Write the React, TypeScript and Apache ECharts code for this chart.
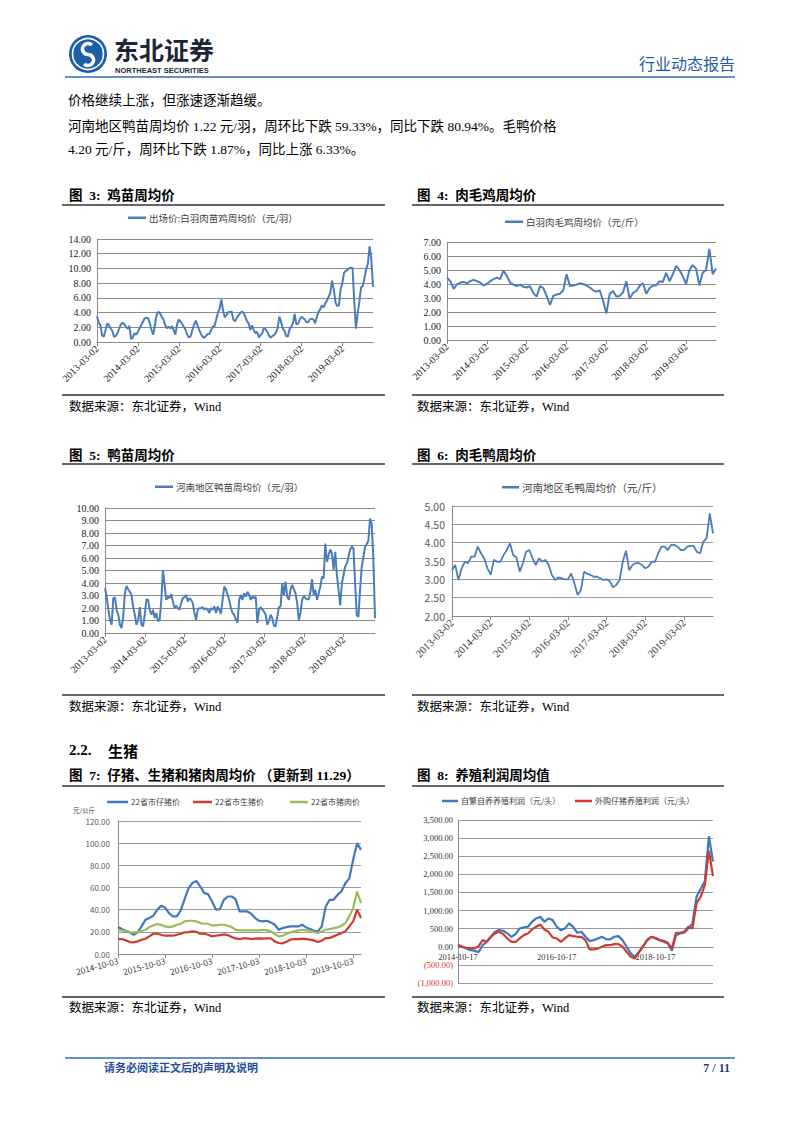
import React, { useEffect, useRef } from 'react';
import * as echarts from 'echarts';

// ---------- DATA ----------
const fig3Name = '出场价:白羽肉苗鸡周均价（元/羽）';
const fig3Ticks = ['2013-03-02', '2014-03-02', '2015-03-02', '2016-03-02', '2017-03-02', '2018-03-02', '2019-03-02'];
const fig3Values = [
  3.5, 2.6, 2.3, 0.9, 0.7, 1.6, 2.5, 2.3, 1.8, 1.5, 0.7, 0.8, 1.2, 1.8, 2.4, 2.6, 2.4, 2.1, 1.8, 2.2, 0.4, 0.6, 1.2, 1.0,
  1.4, 1.86, 2.31, 2.76, 3.22, 3.31, 3.22, 2.54, 1.63, 1.0, 2.31, 3.67, 4.12, 3.9, 3.44, 3.08, 2.31, 1.86, 2.08, 1.86, 2.17, 1.63, 1.0, 2.4,
  3.08, 2.76, 2.45, 2.08, 1.63, 0.95, 0.62, 0.82, 1.63, 2.4, 2.9, 2.22, 1.63, 1.09, 0.72, 0.55, 0.82, 1.09, 1.09, 1.63, 2.08, 2.17, 3.08, 3.99,
  4.58, 5.8, 4.26, 3.35, 3.67, 4.08, 4.03, 4.17, 3.08, 2.81, 3.22, 3.62, 3.9, 4.12, 3.99, 3.44, 2.85, 2.54, 1.63, 2.27, 1.63, 1.18, 1.4, 0.63,
  0.95, 1.18, 1.95, 1.72, 1.36, 0.82, 0.63, 0.82, 0.95, 1.27, 1.86, 3.44, 2.76, 1.86, 1.54, 0.82, 0.72, 1.72, 2.08, 2.54, 3.8, 2.45, 2.45, 3.08,
  3.44, 3.22, 3.08, 2.63, 2.72, 3.08, 3.17, 3.08, 2.54, 3.35, 4.08, 4.44, 4.98, 4.71, 5.26, 5.62, 6.16, 6.7, 8.34, 7.16, 5.35, 4.89, 4.98, 7.16,
  7.97, 9.42, 9.65, 9.79, 10.01, 10.1, 10.05, 5.5, 1.8, 3.9, 5.48, 7.43, 7.61, 8.65, 9.9, 10.7, 13.0, 11.3, 7.5,
];

const fig4Name = '白羽肉毛鸡周均价（元/斤）';
const fig4Ticks = ['2013-03-02', '2014-03-02', '2015-03-02', '2016-03-02', '2017-03-02', '2018-03-02', '2019-03-02'];
const fig4Values = [
  4.45, 4.2, 3.65, 3.98, 4.1, 4.15, 4.05, 4.2, 4.3, 4.2, 4.1, 3.9,
  4.0, 4.2, 4.35, 4.45, 4.35, 4.95, 4.6, 4.1, 3.95, 3.85, 3.95, 3.8,
  3.75, 3.85, 3.35, 3.1, 3.85, 3.7, 3.15, 2.5, 3.15, 3.25, 3.3, 3.55,
  4.7, 3.85, 3.9, 3.95, 4.05, 4.0, 3.9, 3.75, 3.55, 3.45, 3.55, 2.8,
  1.9, 3.3, 3.5, 3.1, 3.15, 3.4, 4.2, 2.95, 3.35, 3.5, 3.85, 4.05,
  3.3, 3.7, 3.9, 3.9, 4.2, 4.15, 4.8, 4.2, 4.7, 5.3, 5.0, 4.55,
  4.0, 5.0, 5.35, 5.1, 3.9, 4.8, 5.0, 6.5, 4.7, 5.1,
];

const fig5Name = '河南地区鸭苗周均价（元/羽）';
const fig5Ticks = ['2013-03-02', '2014-03-02', '2015-03-02', '2016-03-02', '2017-03-02', '2018-03-02', '2019-03-02'];
const fig5Values = [
  3.58, 2.9, 1.86, 1.06, 0.66, 2.79, 2.84, 1.86, 1.46, 0.66, 0.4, 1.33, 3.18, 3.77, 3.5, 3.3, 3.05, 2.1, 1.46, 0.66, 1.06, 2.07, 0.66, 0.53,
  1.46, 2.7, 2.65, 1.86, 1.46, 1.86, 1.19, 1.6, 0.93, 1.06, 2.65, 5.04, 3.85, 2.65, 2.9, 2.79, 3.1, 2.52, 1.99, 2.18, 1.99, 1.86, 2.39, 2.79,
  2.86, 3.05, 2.52, 2.79, 2.65, 2.39, 1.6, 1.06, 1.86, 1.99, 1.99, 2.07, 1.86, 1.99, 1.86, 1.6, 1.99, 1.86, 2.12, 1.6, 2.12, 1.86, 1.54, 2.65,
  3.71, 3.5, 3.05, 2.65, 1.99, 1.6, 1.46, 1.06, 0.85, 2.65, 3.05, 2.65, 3.18, 2.9, 3.3, 3.05, 2.65, 2.9, 2.79, 2.9, 0.8, 1.86, 2.07, 1.86,
  1.72, 1.46, 0.66, 1.0, 1.46, 1.19, 0.58, 0.53, 1.33, 2.07, 2.12, 3.98, 3.05, 4.11, 2.92, 2.65, 3.45, 3.85, 3.5, 3.18, 2.39, 1.0, 1.6, 2.65,
  2.97, 2.79, 2.7, 2.7, 3.3, 4.3, 3.05, 3.45, 2.65, 3.18, 3.71, 4.51, 4.38, 7.16, 5.7, 6.23, 6.68, 6.37, 5.04, 6.5, 4.64, 3.45, 2.2, 3.98,
  4.64, 5.3, 5.57, 6.1, 6.68, 6.9, 6.76, 4.0, 1.4, 1.3, 3.5, 5.3, 6.1, 6.9, 7.1, 7.4, 9.15, 8.75, 5.97, 1.19,
];

const fig6Name = '河南地区毛鸭周均价（元/斤）';
const fig6Ticks = ['2013-03-02', '2014-03-02', '2015-03-02', '2016-03-02', '2017-03-02', '2018-03-02', '2019-03-02'];
const fig6Values = [
  3.25, 3.39, 2.98, 3.3, 3.48, 3.44, 3.62, 3.62, 3.89, 3.71, 3.57, 3.3,
  3.12, 3.53, 3.48, 3.48, 3.66, 3.8, 3.98, 3.66, 3.6, 3.21, 3.44, 3.75,
  3.8, 3.57, 3.39, 3.57, 3.48, 3.53, 3.39, 3.12, 2.98, 3.05, 3.03, 3.0,
  3.0, 3.16, 2.89, 2.57, 2.71, 3.21, 3.15, 3.12, 3.07, 3.07, 3.03, 2.98,
  3.0, 2.94, 2.78, 2.85, 2.98, 3.48, 3.78, 3.25, 3.39, 3.44, 3.44, 3.39,
  3.3, 3.35, 3.48, 3.48, 3.71, 3.89, 3.89, 3.8, 3.94, 3.94, 3.89, 3.8,
  3.8, 3.89, 3.91, 3.91, 3.75, 3.71, 4.03, 4.12, 4.8, 4.25,
];

const fig7Names = ['22省市仔猪价', '22省市生猪价', '22省市猪肉价'];
const fig7Ticks = ['2014-10-03', '2015-10-03', '2016-10-03', '2017-10-03', '2018-10-03', '2019-10-03'];
const fig7Piglet = [
  24.3, 22.5, 21, 19.5, 17.4, 19.5, 24.9, 30.9, 32.4, 34.5,
  39.9, 43.5, 42, 36.9, 33.9, 33.9, 39.3, 49.5, 59.4, 63.9,
  66, 60.9, 54.9, 54, 47.4, 39.9, 40.5, 48.9, 51.9, 51.9,
  49.5, 38.4, 38.4, 38.4, 36.3, 32.4, 30, 29.4, 30, 28.5,
  26.4, 21.9, 23.4, 24.3, 24.9, 24.9, 24.9, 26.4, 24, 22.5,
  21, 20.4, 24.9, 42.9, 48.9, 48.9, 53.4, 56.4, 63.9, 68,
  85, 100, 94,
];
const fig7Hog = [
  13.5, 13.5, 12.3, 10.8, 10.5, 11.4, 12.9, 13.8, 15.9, 18.3,
  18.3, 17.4, 16.5, 16.5, 16.5, 17.4, 18.3, 19.5, 19.8, 20.4,
  20.1, 18.3, 18.3, 17.4, 15.9, 16.5, 17.1, 17.7, 17.1, 15.3,
  14.1, 13.5, 14.1, 14.1, 13.5, 13.8, 14.1, 13.8, 14.1, 14.1,
  11.4, 9.9, 9.6, 11.1, 12.9, 13.5, 13.5, 13.8, 13.5, 12.9,
  12.3, 10.8, 12, 14.4, 14.4, 15.9, 17.4, 18.9, 20.4, 24.9,
  29.4, 39.9, 32.4,
];
const fig7Pork = [
  21.9, 21.3, 20.7, 19.8, 19.5, 19.8, 20.7, 21.9, 24.3, 25.8,
  27, 26.4, 24.9, 24.3, 24.9, 26.4, 27.3, 29.4, 30, 30,
  29.4, 27.9, 27.3, 27.3, 25.8, 25.8, 26.4, 26.4, 25.5, 24.3,
  21.9, 21.3, 21.3, 21.3, 21.3, 21.3, 21.3, 21.9, 21.3, 20.4,
  18, 15.9, 16.5, 18.3, 19.5, 20.4, 21.3, 21.9, 21.3, 21,
  19.8, 18.9, 20.4, 21.9, 22.5, 23.4, 24, 25.5, 27.9, 33.9,
  41.4, 56.4, 45.9,
];

const fig8Names = ['自繁自养养殖利润（元/头）', '外购仔猪养殖利润（元/头）'];
const fig8Ticks = ['2014-10-17', '2016-10-17', '2018-10-17'];
const fig8SelfBred = [
  46, 0, -46, -92, -110, -150, 46, 138, 276, 414,
  460, 442, 368, 276, 350, 506, 534, 552, 690, 783,
  829, 690, 783, 737, 552, 460, 506, 645, 552, 387,
  414, 276, 157, 184, 230, 276, 212, 203, 276, 295,
  184, 0, -184, -276, -138, 18, 184, 276, 230, 184,
  138, 92, -110, 322, 368, 387, 506, 645, 1380, 1600,
  1800, 3050, 2350,
];
const fig8Bought = [
  46, 0, -28, -46, -46, 18, 184, 138, 276, 368,
  414, 350, 230, 138, 138, 230, 322, 368, 479, 552,
  617, 479, 414, 258, 230, 138, 230, 322, 295, 276,
  276, 184, -74, -74, -46, 0, 46, 46, 74, 74,
  0, -138, -276, -322, -157, 0, 184, 276, 249, 184,
  166, 110, -46, 387, 387, 414, 552, 506, 1197, 1380,
  1700, 2650, 1950,
];

// ---------- STYLE ----------
const SERIF = '"Liberation Serif", "Noto Sans CJK SC", serif';
const SANS = '"Noto Sans CJK SC", "Liberation Sans", sans-serif';
const BLUE = '#4a7ebb';
const RED = '#cf3a32';
const GREEN = '#9bbb59';

// chart-8 plot geometry (value range -1000..3500)
const G8 = { left: 458, top: 820, width: 255, height: 163 };
const fig8Min = -1000;
const fig8Max = 3500;
const fig8ZeroOffset = -(G8.height * (0 - fig8Min)) / (fig8Max - fig8Min);

function makeCats(n: number, per: number, ticks: string[]) {
  return Array.from({ length: n }, (_, i) =>
    i % per === 0 && ticks[i / per] ? ticks[i / per] : `p${i}`
  );
}

function xAxisCfg(gridIndex: number, n: number, per: number, ticks: string[], label: any, extra: any = {}) {
  const show = (idx: number) => idx % per === 0 && idx / per < ticks.length;
  return {
    type: 'category',
    gridIndex,
    data: makeCats(n, per, ticks),
    boundaryGap: false,
    axisLine: { show: true, lineStyle: { color: '#8a8a8a', width: 1 } },
    axisTick: { show: true, interval: show, length: 4, lineStyle: { color: '#8a8a8a' } },
    axisLabel: {
      interval: show,
      formatter: (v: string) => (v.charAt(0) === 'p' ? '' : v),
      ...label,
    },
    splitLine: { show: false },
    ...extra,
  };
}

function yAxisCfg(gridIndex: number, min: number, max: number, interval: number, label: any, gridColor = '#8a8a8a') {
  return {
    type: 'value',
    gridIndex,
    min,
    max,
    interval,
    axisLine: { show: true, lineStyle: { color: '#8a8a8a', width: 1 } },
    axisTick: { show: false },
    axisLabel: { formatter: (v: number) => v.toFixed(2), ...label },
    splitLine: { show: true, lineStyle: { color: gridColor, width: 1 } },
  };
}

function lineSeries(name: string, idx: number, data: number[], color: string, width = 2) {
  return {
    name,
    type: 'line',
    xAxisIndex: idx,
    yAxisIndex: idx,
    data,
    symbol: 'none',
    showSymbol: false,
    lineStyle: { color, width },
    itemStyle: { color },
    silent: true,
  };
}

function legendCfg(name: string, left: number, top: number, fontSize: number, color = '#404040', itemWidth = 18) {
  return {
    data: [name],
    left,
    top,
    padding: 0,
    itemGap: 0,
    itemWidth,
    itemHeight: 2.5,
    icon: 'rect',
    selectedMode: false,
    textStyle: { fontSize, color, fontFamily: SANS, padding: [0, 0, 0, -2] },
  };
}

const T = (x: number, y: number, text: string, font: string, fill = '#000', align = 'left') => ({
  type: 'text',
  x,
  y,
  silent: true,
  style: { text, font, fill, align, textAlign: align, verticalAlign: 'middle', textVerticalAlign: 'middle' },
});
const L = (x1: number, y1: number, x2: number, y2: number, stroke: string, lineWidth: number) => ({
  type: 'line',
  silent: true,
  shape: { x1, y1, x2, y2 },
  style: { stroke, lineWidth },
});

const fmtMoney = (v: number) => {
  const s = Math.abs(v).toLocaleString('en-US', { minimumFractionDigits: 2, maximumFractionDigits: 2 });
  return v < 0 ? `(${s})` : s;
};

export default function App() {
  const ref = useRef<HTMLDivElement>(null);

  useEffect(() => {
    if (!ref.current) return;
    const chart = echarts.init(ref.current, null, { renderer: 'svg', width: 802, height: 1133 });

    const serifLabel = { fontFamily: SERIF, fontSize: 10, color: '#1a1a1a' };
    const rot45 = { ...serifLabel, rotate: 45, margin: 5 };

    const titleFont = `bold 13.5px ${SERIF}`;
    const sourceFont = `12.5px ${SERIF}`;
    const bodyFont = `13.5px ${SERIF}`;

    const graphic: any[] = [
      // header logo
      { type: 'circle', silent: true, shape: { cx: 88, cy: 54, r: 19 }, style: { fill: '#1d5fa9' } },
      { type: 'circle', silent: true, shape: { cx: 88, cy: 54, r: 15.5 }, style: { fill: 'none', stroke: '#fff', lineWidth: 1.6 } },
      { type: 'arc', silent: true, shape: { cx: 88, cy: 49, r: 5.5, startAngle: Math.PI / 2, endAngle: Math.PI * 1.75, clockwise: true }, style: { stroke: '#fff', lineWidth: 3.5, fill: 'none' } },
      { type: 'arc', silent: true, shape: { cx: 88, cy: 60, r: 5.5, startAngle: -Math.PI / 2, endAngle: Math.PI * 0.75, clockwise: true }, style: { stroke: '#fff', lineWidth: 3.5, fill: 'none' } },
      T(114, 49, '东北证券', `bold 25px ${SANS}`, '#1b2636'),
      T(115, 70, 'NORTHEAST SECURITIES', 'bold 7.5px "Liberation Sans", sans-serif', '#1b2636'),
      T(735, 63, '行业动态报告', `16px ${SANS}`, '#1f5da8', 'right'),
      L(65, 77, 735, 77, '#2f6db5', 1.6),
      // body
      T(68, 100, '价格继续上涨，但涨速逐渐趋缓。', bodyFont),
      T(68, 126, '河南地区鸭苗周均价 1.22 元/羽，周环比下跌 59.33%，同比下跌 80.94%。毛鸭价格', bodyFont),
      T(68, 149, '4.20 元/斤，周环比下跌 1.87%，同比上涨 6.33%。', bodyFont),
      // fig 3 / 4
      T(69, 195, '图  3:  鸡苗周均价', titleFont),
      L(62, 205, 385, 205, '#333', 1.5),
      T(417, 195, '图  4:  肉毛鸡周均价', titleFont),
      L(412, 205, 724, 205, '#333', 1.5),
      L(62, 395, 385, 395, '#333', 1.5),
      L(412, 395, 724, 395, '#333', 1.5),
      T(69, 407, '数据来源：东北证券，Wind', sourceFont),
      T(417, 407, '数据来源：东北证券，Wind', sourceFont),
      // fig 5 / 6
      T(69, 455, '图  5:  鸭苗周均价', titleFont),
      L(62, 464, 385, 464, '#333', 1.5),
      T(417, 455, '图  6:  肉毛鸭周均价', titleFont),
      L(412, 464, 724, 464, '#333', 1.5),
      L(62, 695, 385, 695, '#333', 1.5),
      L(412, 695, 724, 695, '#333', 1.5),
      T(69, 707, '数据来源：东北证券，Wind', sourceFont),
      T(417, 707, '数据来源：东北证券，Wind', sourceFont),
      // section 2.2
      T(69, 750, '2.2.', `bold 15px ${SERIF}`),
      T(108, 750, '生猪', `bold 15px ${SANS}`),
      // fig 7 / 8
      T(69, 775, '图  7:  仔猪、生猪和猪肉周均价 （更新到 11.29）', titleFont),
      L(62, 786, 385, 786, '#333', 1.5),
      T(417, 775, '图  8:  养殖利润周均值', titleFont),
      L(412, 786, 724, 786, '#333', 1.5),
      T(73, 810, '元/公斤', `6.5px ${SANS}`, '#404040'),
      L(62, 997, 385, 997, '#333', 1.5),
      L(412, 997, 724, 997, '#333', 1.5),
      T(69, 1008, '数据来源：东北证券，Wind', sourceFont),
      T(417, 1008, '数据来源：东北证券，Wind', sourceFont),
      // footer
      L(65, 1058, 735, 1058, '#2f6db5', 1.6),
      T(104, 1068, '请务必阅读正文后的声明及说明', `bold 11px ${SERIF}`, '#1f4e9a'),
      T(730, 1068, '7 / 11', `bold 12px ${SERIF}`, '#1f3f7a', 'right'),
    ];

    const option: any = {
      animation: false,
      backgroundColor: '#ffffff',
      grid: [
        { left: 97, top: 239, width: 276, height: 103 },
        { left: 447, top: 242, width: 269, height: 98 },
        { left: 105, top: 508, width: 270, height: 125 },
        { left: 452, top: 506, width: 261, height: 110 },
        { left: 118, top: 821, width: 243, height: 133 },
        { ...G8 },
      ],
      xAxis: [
        xAxisCfg(0, fig3Values.length, 24, fig3Ticks, rot45),
        xAxisCfg(1, fig4Values.length, 12, fig4Ticks, rot45),
        xAxisCfg(2, fig5Values.length, 24, fig5Ticks, rot45),
        xAxisCfg(3, fig6Values.length, 12, fig6Ticks, { ...rot45, fontSize: 10.5, color: '#333' }),
        xAxisCfg(4, fig7Piglet.length, 12, fig7Ticks, { fontFamily: SANS, fontSize: 8.5, color: '#404040', rotate: 15, margin: 6 }),
        xAxisCfg(5, fig8SelfBred.length, 24, fig8Ticks, { fontFamily: SERIF, fontSize: 8.5, color: '#333', rotate: 0, margin: 6 }, {
          position: 'bottom',
          offset: fig8ZeroOffset,
          axisTick: { show: false },
          axisLine: { show: true, onZero: false, lineStyle: { color: '#8a8a8a' } },
        }),
      ],
      yAxis: [
        yAxisCfg(0, 0, 14, 2, { ...serifLabel, margin: 6 }),
        yAxisCfg(1, 0, 7, 1, { ...serifLabel, margin: 6 }),
        yAxisCfg(2, 0, 10, 1, { ...serifLabel, margin: 6 }),
        yAxisCfg(3, 2, 5, 0.5, { fontFamily: SANS, fontSize: 10.5, color: '#595959', margin: 7 }, '#9a9a9a'),
        yAxisCfg(4, 0, 120, 20, { fontFamily: SANS, fontSize: 8, color: '#595959', margin: 8 }, '#9a9a9a'),
        {
          ...yAxisCfg(5, fig8Min, fig8Max, 500, { fontFamily: SERIF, fontSize: 8.5, margin: 5 }, '#9a9a9a'),
          axisLabel: {
            fontFamily: SERIF,
            fontSize: 8.5,
            margin: 5,
            formatter: (v: number) => fmtMoney(v),
            color: (v: any) => (Number(v) < 0 ? '#e0302a' : '#333'),
          },
        },
      ],
      legend: [
        legendCfg(fig3Name, 128, 213, 9.5),
        legendCfg(fig4Name, 505, 217, 9.5),
        legendCfg(fig5Name, 155, 482, 9.5),
        legendCfg(fig6Name, 502, 482, 10.5, '#404040', 17),
        legendCfg(fig7Names[0], 107, 798, 8, '#404040', 21),
        legendCfg(fig7Names[1], 193, 798, 8, '#404040', 19),
        legendCfg(fig7Names[2], 290, 798, 8, '#404040', 18),
        legendCfg(fig8Names[0], 442, 797, 8, '#404040', 16),
        legendCfg(fig8Names[1], 575, 797, 8, '#404040', 17),
      ],
      series: [
        lineSeries(fig3Name, 0, fig3Values, BLUE, 2),
        lineSeries(fig4Name, 1, fig4Values, BLUE, 2),
        lineSeries(fig5Name, 2, fig5Values, BLUE, 2),
        lineSeries(fig6Name, 3, fig6Values, BLUE, 1.8),
        lineSeries(fig7Names[0], 4, fig7Piglet, '#3f78c0', 2.2),
        lineSeries(fig7Names[1], 4, fig7Hog, RED, 2.2),
        lineSeries(fig7Names[2], 4, fig7Pork, GREEN, 2.2),
        lineSeries(fig8Names[0], 5, fig8SelfBred, '#3f78c0', 2.2),
        lineSeries(fig8Names[1], 5, fig8Bought, RED, 2.2),
      ],
      graphic,
    };

    chart.setOption(option);
    return () => chart.dispose();
  }, []);

  return (
    <div
      ref={ref}
      style={{ position: 'absolute', left: 0, top: 0, width: 802, height: 1133, background: '#fff' }}
    />
  );
}
